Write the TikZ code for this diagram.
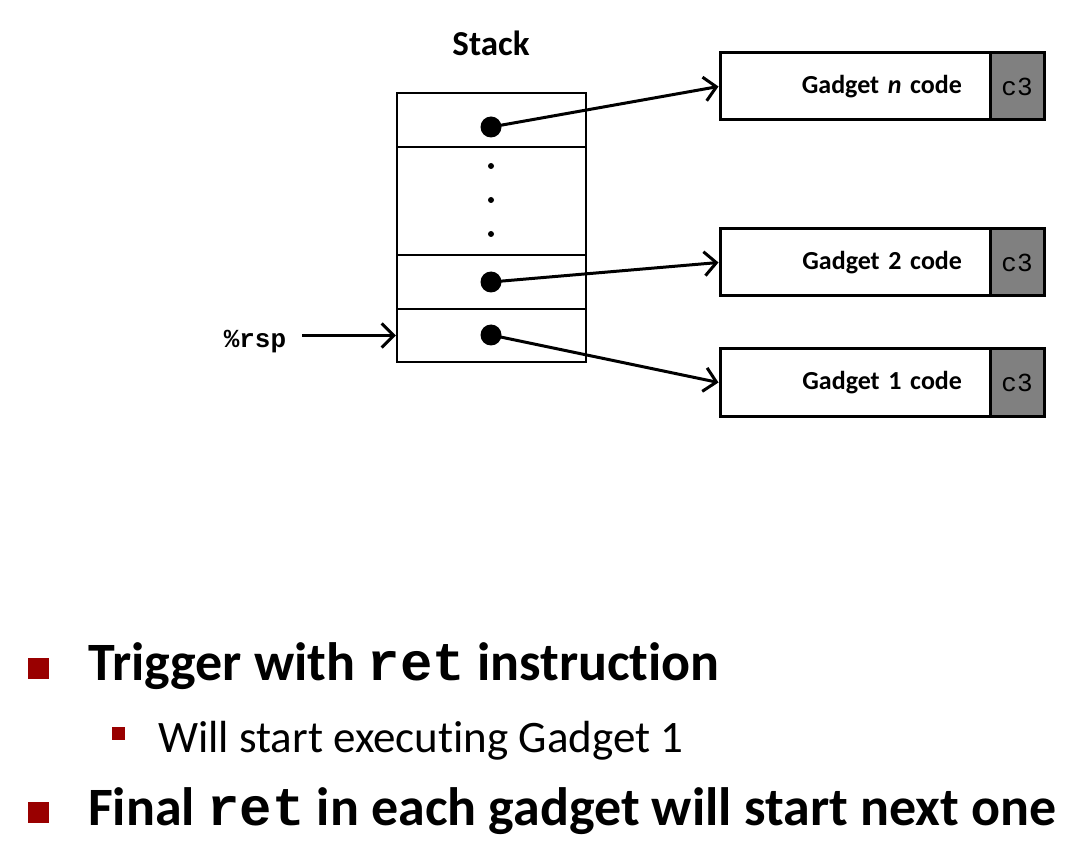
\documentclass[tikz,border=0pt]{standalone}
\usepackage{fontspec}
\setmainfont{Carlito}[Ligatures=NoCommon]
\setmonofont{Liberation Mono}
\usepackage{tikz}
\usetikzlibrary{arrows.meta,positioning,calc}
\definecolor{bulletred}{RGB}{153,0,0}
\definecolor{tagfill}{RGB}{128,128,128}

\begin{document}
\begin{tikzpicture}[x=1pt, y=-1pt,
    cell/.style={draw, line width=2.5pt, minimum width=189pt, inner sep=0pt},
    bigdot/.style={circle, fill=black, minimum size=21pt, inner sep=0pt},
    smalldot/.style={circle, fill=black, minimum size=6pt, inner sep=0pt},
    codebox/.style={draw, line width=3pt, minimum height=67pt, text width=214pt, inner xsep=28pt,
        align=right, font=\fontsize{26}{30}\selectfont\bfseries},
    tagbox/.style={draw, line width=3pt, fill=tagfill, minimum height=67pt, minimum width=54pt,
        inner sep=0pt, font=\fontsize{26}{30}\selectfont\ttfamily},
    ptr/.style={line width=3pt, -{Straight Barb[length=12pt, width=24pt, line width=3pt]}},
    bullet/.style={fill=bulletred, inner sep=0pt, minimum width=#1, minimum height=#1},
    every node/.style={inner sep=0pt}]
    \useasboundingbox (0,0) rectangle (1088,845);

    % the stack
    \node[font=\fontsize{35}{40}\selectfont\bfseries] (stacklbl) at (491,43) {Stack};
    \node[cell, minimum height=54pt] (s1) at (491.5,120) {};
    \node[cell, minimum height=108pt] (s2) at (491.5,201) {};
    \node[cell, minimum height=54pt] (s3) at (491.5,282) {};
    \node[cell, minimum height=53pt] (s4) at (491.5,335.5) {};

    \node[bigdot] (d1) at (491,127) {};
    \node[smalldot] (e1) at (491,166) {};
    \node[smalldot] (e2) at (491,200) {};
    \node[smalldot] (e3) at (491,234) {};
    \node[bigdot] (d2) at (491,282) {};
    \node[bigdot] (d3) at (491,335) {};

    % gadgets
    \node[codebox] (gn) at (855,86.5) {\raisebox{-2pt}{Gadget \textit{n} code}};
    \node[tagbox, right=-3pt of gn] (tn) {c3};
    \node[codebox] (g2) at (855,262.5) {\raisebox{-2pt}{Gadget 2 code}};
    \node[tagbox, right=-3pt of g2] (t2) {c3};
    \node[codebox] (g1) at (855,382.5) {\raisebox{-2pt}{Gadget 1 code}};
    \node[tagbox, right=-3pt of g1] (t1) {c3};

    \draw[ptr] (d1.center) -- (gn.west);
    \draw[ptr] (d2.center) -- (g2.west);
    \draw[ptr] (d3.center) -- (g1.west);

    % stack pointer
    \node[font=\fontsize{26}{30}\selectfont\ttfamily\bfseries] (rsp) at (255,342) {\%rsp};
    \draw[ptr] ([xshift=16pt]rsp.east |- s4.west) -- (s4.west);

    % bullets
    \node[bullet=21pt] (b1) at (38,668) {};
    \node[anchor=base west, font=\fontsize{54}{60}\selectfont\bfseries] (t1txt) at (88,680)
        {Trigger with \texttt{ret} instruction};
    \node[bullet=13pt] (b2) at (118,733) {};
    \node[anchor=base west, font=\fontsize{45}{50}\selectfont] (t2txt) at (158,752)
        {Will start executing Gadget 1};
    \node[bullet=21pt] (b3) at (38,812) {};
    \node[anchor=base west, font=\fontsize{54}{60}\selectfont\bfseries] (t3txt) at (88,825)
        {Final \texttt{ret} in each gadget will start next one};
\end{tikzpicture}
\end{document}
